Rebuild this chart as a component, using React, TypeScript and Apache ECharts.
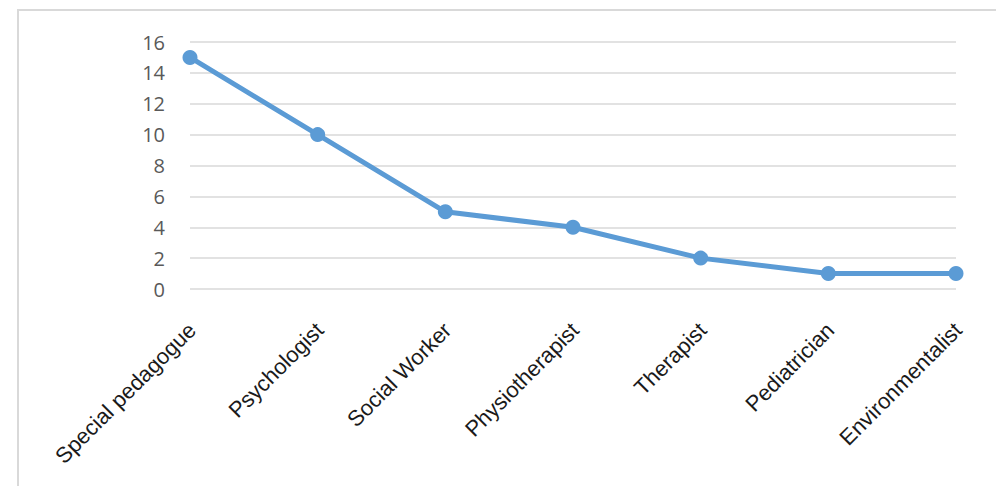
import React, { useEffect, useRef } from "react";
import * as echarts from "echarts";

const categories = [
  "Special pedagogue",
  "Psychologist",
  "Social Worker",
  "Physiotherapist",
  "Therapist",
  "Pediatrician",
  "Environmentalist",
];
const values = [15, 10, 5, 4, 2, 1, 1];
const yTicks = { min: 0, max: 16, interval: 2 };

export default function App() {
  const ref = useRef<HTMLDivElement>(null);
  useEffect(() => {
    document.body.style.margin = "0";
    const chart = echarts.init(ref.current!, null, { renderer: "svg" });
    chart.setOption({
      animation: false,
      backgroundColor: "#ffffff",
      graphic: [
        {
          type: "rect",
          shape: { x: 18, y: 10, width: 1000, height: 500 },
          style: { fill: "none", stroke: "#d9d9d9", lineWidth: 2 },
          silent: true,
          z: -1,
        },
      ],
      grid: { left: 190, right: 40, top: 42, bottom: 197, containLabel: false },
      xAxis: {
        type: "category",
        data: categories,
        boundaryGap: false,
        axisLine: { show: false },
        axisTick: { show: false },
        axisLabel: {
          rotate: 45,
          margin: 17,
          verticalAlign: "top",
          padding: [5, 13, 0, 0],
          fontFamily: "Liberation Sans, Arial",
          fontSize: 22,
          color: "#1a1a1a",
          interval: 0,
        },
      },
      yAxis: {
        type: "value",
        min: yTicks.min,
        max: yTicks.max,
        interval: yTicks.interval,
        axisLine: { show: false },
        axisTick: { show: false },
        axisLabel: {
          margin: 25,
          fontFamily: "Open Sans, Liberation Sans, Arial",
          fontSize: 20,
          color: "#595959",
        },
        splitLine: { lineStyle: { color: "#d9d9d9", width: 1.5 } },
      },
      series: [
        {
          type: "line",
          data: values,
          symbol: "circle",
          symbolSize: 15,
          itemStyle: { color: "#5B9BD5" },
          lineStyle: { color: "#5B9BD5", width: 5 },
        },
      ],
    });
    return () => chart.dispose();
  }, []);
  return (
    <div
      ref={ref}
      style={{ position: "absolute", left: 0, top: 0, width: 996, height: 486 }}
    />
  );
}
